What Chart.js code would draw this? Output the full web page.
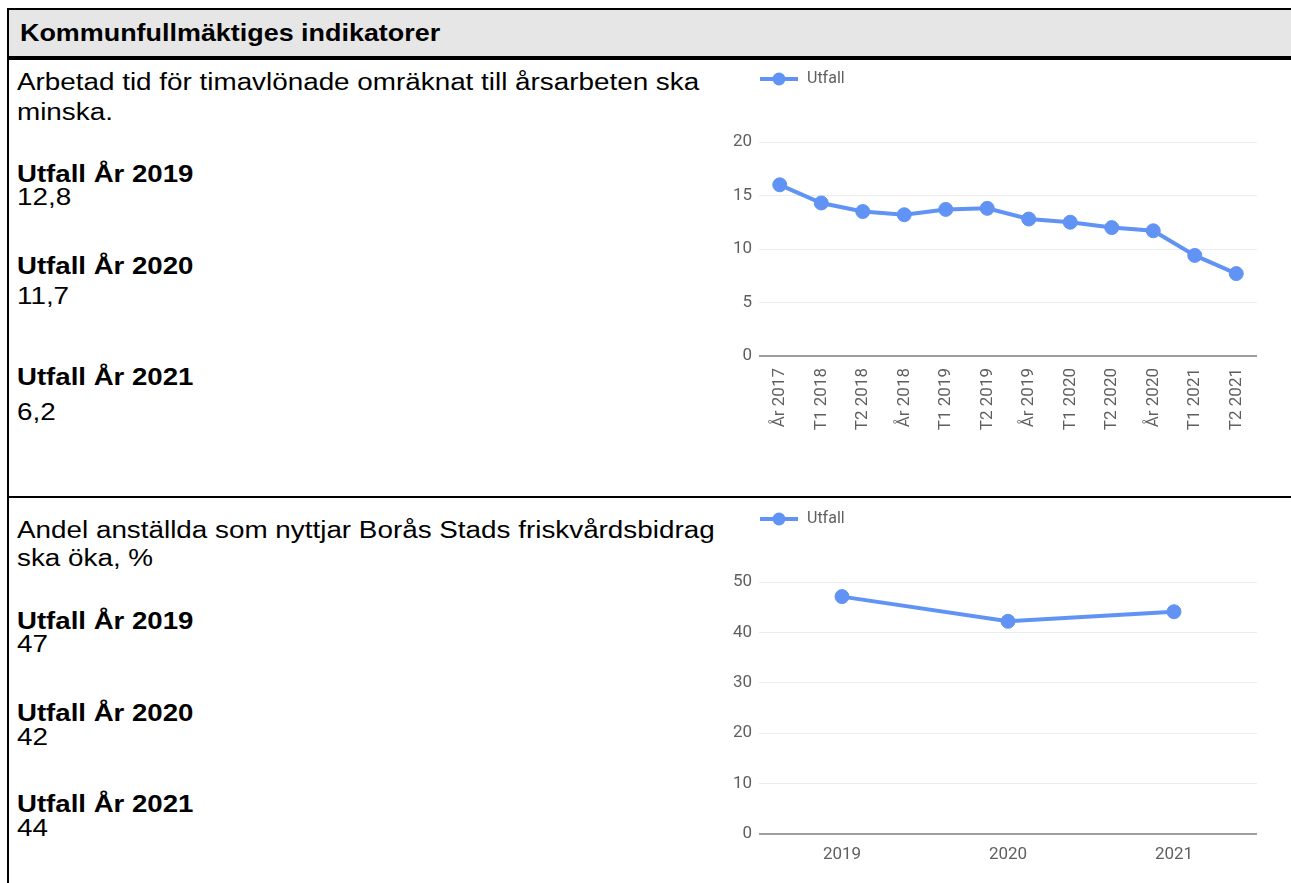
<!DOCTYPE html>
<html lang="sv">
<head>
<meta charset="utf-8">
<title>Kommunfullmäktiges indikatorer</title>
<script src="https://cdn.jsdelivr.net/npm/chart.js@4.4.0/dist/chart.umd.min.js"></script>
<style>
    body {
        margin: 0;
        width: 1291px;
        height: 883px;
        overflow: hidden;
        position: relative;
        background: #fff;
        font-family: "Liberation Sans", Arial, sans-serif;
        color: #000;
    }
    .linje { position: absolute; background: #000; }
    .rubrik {
        position: absolute; left: 9px; top: 10px; width: 1282px; height: 46px;
        background: #e6e6e6;
    }
    .rubrik span {
        position: absolute; left: 11px; top: 10px;
        font-size: 23px; line-height: 26px; font-weight: bold;
        transform: scaleX(1.17); transform-origin: 0 0;
    }
    .txt {
        position: absolute; left: 17px;
        font-size: 23px; line-height: 26px; white-space: nowrap;
        transform: scaleX(1.21); transform-origin: 0 0;
    }
    .txt.fet { font-weight: bold; transform: scaleX(1.2); }
    canvas { position: absolute; left: 720px; }
</style>
</head>
<body>
<div class="linje" style="left:7px; top:8px; width:1284px; height:2px;"></div>
<div class="linje" style="left:7px; top:8px; width:2px; height:875px;"></div>
<div class="rubrik"><span>Kommunfullmäktiges indikatorer</span></div>
<div class="linje" style="left:7px; top:56px; width:1284px; height:4px;"></div>
<div class="linje" style="left:7px; top:496px; width:1284px; height:2px;"></div>

<div class="txt" style="top:69px;">Arbetad tid för timavlönade omräknat till årsarbeten ska</div>
<div class="txt" style="top:99px;">minska.</div>
<div class="txt fet" style="top:161px;">Utfall År 2019</div>
<div class="txt" style="top:184px;">12,8</div>
<div class="txt fet" style="top:253px;">Utfall År 2020</div>
<div class="txt" style="top:283px;">11,7</div>
<div class="txt fet" style="top:364px;">Utfall År 2021</div>
<div class="txt" style="top:399px;">6,2</div>

<div class="txt" style="top:517px;">Andel anställda som nyttjar Borås Stads friskvårdsbidrag</div>
<div class="txt" style="top:545px;">ska öka, %</div>
<div class="txt fet" style="top:608px;">Utfall År 2019</div>
<div class="txt" style="top:631px;">47</div>
<div class="txt fet" style="top:700px;">Utfall År 2020</div>
<div class="txt" style="top:724px;">42</div>
<div class="txt fet" style="top:791px;">Utfall År 2021</div>
<div class="txt" style="top:815px;">44</div>

<canvas id="timavlonade" width="571" height="370" style="top:61px;"></canvas>
<canvas id="friskvard" width="571" height="373" style="top:501px;"></canvas>

<script>
// Data
const perioder = ['År 2017', 'T1 2018', 'T2 2018', 'År 2018', 'T1 2019', 'T2 2019', 'År 2019', 'T1 2020', 'T2 2020', 'År 2020', 'T1 2021', 'T2 2021'];
const timavlonadeUtfall = [16.0, 14.3, 13.5, 13.2, 13.7, 13.8, 12.8, 12.5, 12.0, 11.7, 9.4, 7.7];
const timavlonadeTicks = [0, 5, 10, 15, 20];

const artal = ['2019', '2020', '2021'];
const friskvardUtfall = [47.1, 42.2, 44.1];
const friskvardTicks = [0, 10, 20, 30, 40, 50];

const BLA = '#6193f5';
const GRA_TEXT = '#5f5f5f';

// Legend symbol: line with a dot in the middle
const legendIcon = document.createElement('canvas');
legendIcon.width = 38;
legendIcon.height = 16;
(function () {
    const c = legendIcon.getContext('2d');
    c.strokeStyle = BLA;
    c.lineWidth = 4;
    c.beginPath();
    c.moveTo(0, 8);
    c.lineTo(38, 8);
    c.stroke();
    c.fillStyle = BLA;
    c.beginPath();
    c.arc(19, 8, 6.5, 0, Math.PI * 2);
    c.fill();
})();

// Puts the legend above the plot area's left edge and leaves room below it
const legendPlats = {
    id: 'legendPlats',
    afterInit(chart, args, opts) {
        const legend = chart.legend;
        const fit = legend.fit.bind(legend);
        legend.fit = function () {
            fit();
            this.height += opts.extra || 0;
        };
    },
    afterLayout(chart) {
        chart.legend.left = chart.chartArea.left - chart.options.plugins.legend.labels.padding;
    }
};

function skapaDiagram(id, labels, values, ticks, xOpts, xHeight) {
    const max = ticks[ticks.length - 1];
    return new Chart(document.getElementById(id), {
        type: 'line',
        data: {
            labels: labels,
            datasets: [{
                label: 'Utfall',
                data: values,
                borderColor: BLA,
                backgroundColor: BLA,
                borderWidth: 4,
                pointRadius: 7,
                pointHoverRadius: 7,
                pointBorderWidth: 1,
                tension: 0
            }]
        },
        options: {
            responsive: false,
            animation: false,
            devicePixelRatio: 1,
            layout: { padding: { left: 0, right: 34, top: 0, bottom: 0 } },
            plugins: {
                legend: {
                    align: 'start',
                    labels: {
                        usePointStyle: true,
                        pointStyle: legendIcon,
                        pointStyleWidth: 40,
                        padding: 10,
                        color: GRA_TEXT,
                        font: { family: 'Roboto', size: 16 }
                    }
                },
                legendPlats: { extra: 45 },
                tooltip: { enabled: false }
            },
            scales: {
                x: Object.assign({
                    offset: true,
                    grid: { display: false },
                    border: { display: false },
                    afterFit: s => { s.height = xHeight; }
                }, xOpts),
                y: {
                    min: 0,
                    max: max,
                    border: { display: false },
                    grid: {
                        drawTicks: false,
                        color: c => (c.tick && c.tick.value === 0) ? '#9e9e9e' : '#ececec',
                        lineWidth: c => (c.tick && c.tick.value === 0) ? 2 : 1
                    },
                    ticks: {
                        padding: 7,
                        color: GRA_TEXT,
                        font: { family: 'Roboto', size: 17 }
                    },
                    afterBuildTicks: s => { s.ticks = ticks.map(v => ({ value: v })); },
                    afterFit: s => { s.width = 39; }
                }
            }
        },
        plugins: [legendPlats]
    });
}

skapaDiagram('timavlonade', perioder, timavlonadeUtfall, timavlonadeTicks, {
    ticks: {
        autoSkip: false,
        minRotation: 90,
        maxRotation: 90,
        padding: 4,
        color: GRA_TEXT,
        font: { family: 'Roboto', size: 17 }
    }
}, 75);

skapaDiagram('friskvard', artal, friskvardUtfall, friskvardTicks, {
    ticks: {
        autoSkip: false,
        maxRotation: 0,
        padding: 3,
        color: GRA_TEXT,
        font: { family: 'Roboto', size: 17 }
    }
}, 40);
</script>
</body>
</html>
